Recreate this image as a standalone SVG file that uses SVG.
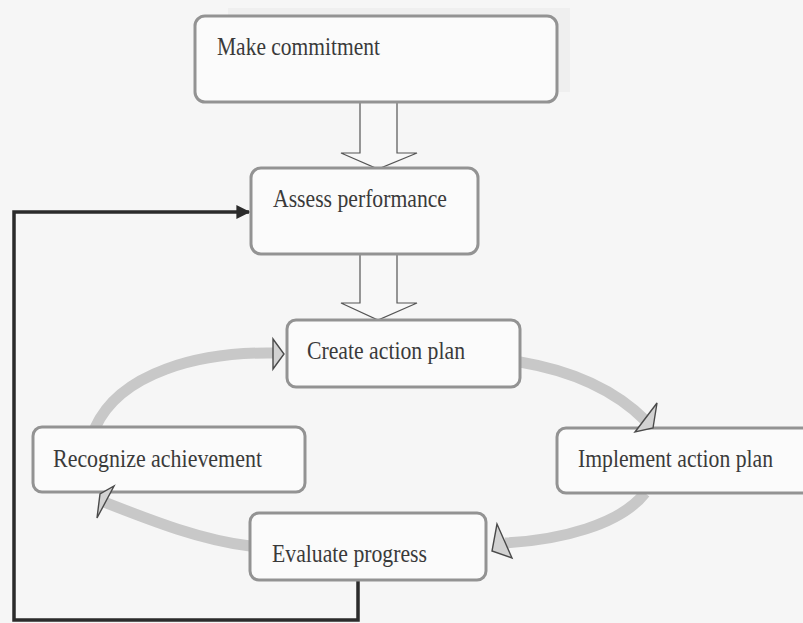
<svg xmlns="http://www.w3.org/2000/svg" width="803" height="623" viewBox="0 0 803 623">
  <style>
    .box { fill: #fbfbfb; stroke: #939393; stroke-width: 3; }
    .lbl { font-family: "Liberation Serif", "Times New Roman", serif; font-size: 22px; fill: #3a3a3a; }
    .flow { fill: none; stroke: #c8c8c8; stroke-width: 11; stroke-linecap: butt; }
    .head { fill: #d2d2d2; stroke: #4a4a4a; stroke-width: 1.4; stroke-linejoin: miter; }
    .hollow { fill: #f8f8f8; stroke: #555555; stroke-width: 1.2; }
    .loop { fill: none; stroke: #2b2b2b; stroke-width: 3.5; }
  </style>
  <defs>
    <marker id="solid" viewBox="0 0 10 10" refX="9" refY="5" markerWidth="5" markerHeight="4" markerUnits="strokeWidth" orient="auto">
      <path d="M0,0 L10,5 L0,10 Z" fill="#2b2b2b"/>
    </marker>
  </defs>

  <!-- page background -->
  <rect x="0" y="0" width="803" height="623" fill="#f6f6f6"/>
  <rect x="228" y="8" width="342" height="84" fill="#efefef"/>

  <!-- connectors -->
  <g id="connectors">
    <!-- hollow block arrows down the main column -->
    <path class="hollow" d="M360,102 V153 H341 L378,169 L417,153 H397 V102"/>
    <path class="hollow" d="M360,254 V303 H341 L378,320 L417,303 H397 V254"/>
    <!-- cycle arrows -->
    <path class="flow" d="M95,428 C120,372 200,352 273,353"/>
    <path class="flow" d="M520,362 C580,372 620,395 646,421"/>
    <path class="flow" d="M645,493 C620,525 560,540 505,543"/>
    <path class="flow" d="M250,546 C200,540 150,520 104,502"/>
    <!-- feedback loop back to assessment -->
    <path class="loop" d="M358,580 V620 H14 V212 H249" marker-end="url(#solid)"/>
  </g>

  <g id="make-commitment">
    <rect class="box" x="195" y="16" width="362" height="86" rx="10"/>
    <text class="lbl" transform="translate(217 55) scale(1 1.15)" textLength="163" lengthAdjust="spacingAndGlyphs">Make commitment</text>
  </g>

  <g id="assess-performance">
    <rect class="box" x="251" y="168" width="227" height="86" rx="10"/>
    <text class="lbl" transform="translate(273 207) scale(1 1.15)" textLength="174" lengthAdjust="spacingAndGlyphs">Assess performance</text>
  </g>

  <g id="create-action-plan">
    <rect class="box" x="287" y="320" width="233" height="67" rx="9"/>
    <text class="lbl" transform="translate(307 359) scale(1 1.15)" textLength="158" lengthAdjust="spacingAndGlyphs">Create action plan</text>
  </g>

  <g id="recognize-achievement">
    <rect class="box" x="33" y="427" width="272" height="65" rx="9"/>
    <text class="lbl" transform="translate(53 467) scale(1 1.15)" textLength="209" lengthAdjust="spacingAndGlyphs">Recognize achievement</text>
  </g>

  <g id="implement-action-plan">
    <rect class="box" x="557" y="428" width="260" height="65" rx="9"/>
    <text class="lbl" transform="translate(578 467) scale(1 1.15)" textLength="195" lengthAdjust="spacingAndGlyphs">Implement action plan</text>
  </g>

  <g id="evaluate-progress">
    <rect class="box" x="250" y="513" width="236" height="67" rx="9"/>
    <text class="lbl" transform="translate(272 562) scale(1 1.15)" textLength="155" lengthAdjust="spacingAndGlyphs">Evaluate progress</text>
  </g>

  <!-- arrowheads of the cycle -->
  <g id="cycle-heads">
    <path class="head" d="M273,339 L284,354 L273,369 Z"/>
    <path class="head" d="M657,403 L635,432 L653,428 Z"/>
    <path class="head" d="M497,524 L492,551 L512,558 Z"/>
    <path class="head" d="M97,518 L100,494 L114,486 Z"/>
  </g>
</svg>
